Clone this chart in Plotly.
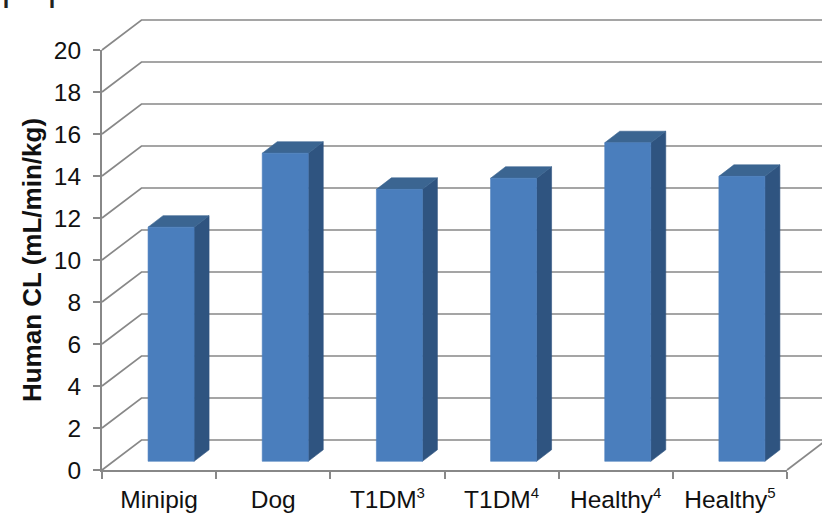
import plotly.graph_objects as go

SUP = '<sup><span style="font-size:15px">{}</span></sup>'
categories = ["Minipig", "Dog", "T1DM" + SUP.format(3), "T1DM" + SUP.format(4),
              "Healthy" + SUP.format(4), "Healthy" + SUP.format(5)]
clearance = [11.15, 14.67, 12.95, 13.48, 15.17, 13.57]
y_ticks = [0, 2, 4, 6, 8, 10, 12, 14, 16, 18, 20]

WIDTH, HEIGHT = 822, 513
LEFT, RIGHT = 102, 787      # plot floor, front edge
Y0, Y20 = 470, 50           # pixel rows of the value axis ends
UX = (RIGHT - LEFT) / len(categories)
UY = (Y0 - Y20) / 20

# Oblique projection of the chart box, in axis units
DEPTH_X, DEPTH_Y = 39.5 / UX, 30 / UY
BAR_W = 46 / UX
BAR_OFFSET = 0.105
BAR_BASE = 8.7 / UY
SIDE_X, SIDE_Y = 15 / UX, 11.5 / UY

GRID = "#888888"
FRONT, SIDE, TOP = "#4a7ebd", "#2f5480", "#3b6591"

fig = go.Figure()

# Keeps the front axes on the page
fig.add_trace(go.Scatter(x=[0], y=[0], mode="markers", marker=dict(opacity=0), hoverinfo="skip"))


def poly(xs, ys, fill):
    fig.add_trace(go.Scatter(
        x=xs, y=ys, xaxis="x2", yaxis="y2", mode="lines", fill="toself",
        fillcolor=fill, line=dict(color=fill, width=0.6), hoverinfo="skip",
    ))


# Wall and floor gridlines
x_back_end = (WIDTH + 10 - LEFT) / UX
for v in y_ticks:
    fig.add_trace(go.Scatter(
        x=[0, DEPTH_X, x_back_end], y=[v, v + DEPTH_Y, v + DEPTH_Y],
        xaxis="x2", yaxis="y2", mode="lines",
        line=dict(color=GRID, width=1.7), hoverinfo="skip",
    ))
fig.add_trace(go.Scatter(
    x=[len(categories), len(categories) + DEPTH_X], y=[0, DEPTH_Y],
    xaxis="x2", yaxis="y2", mode="lines",
    line=dict(color=GRID, width=1.7), hoverinfo="skip",
))

# Bars: side face, top face, front face
for i, value in enumerate(clearance):
    x0 = i + 0.5 + BAR_OFFSET - BAR_W / 2
    x1 = x0 + BAR_W
    y0 = BAR_BASE
    y1 = BAR_BASE + value
    poly([x1, x1 + SIDE_X, x1 + SIDE_X, x1, x1], [y0, y0 + SIDE_Y, y1 + SIDE_Y, y1, y0], SIDE)
    poly([x0, x1, x1 + SIDE_X, x0 + SIDE_X, x0], [y1, y1, y1 + SIDE_Y, y1 + SIDE_Y, y1], TOP)
    poly([x0, x1, x1, x0, x0], [y0, y0, y1, y1, y0], FRONT)

axis_font = dict(family="Liberation Sans", size=24.5, color="#111111")

fig.update_layout(
    width=WIDTH, height=HEIGHT, showlegend=False,
    margin=dict(l=0, r=0, t=0, b=0, autoexpand=False),
    paper_bgcolor="white", plot_bgcolor="rgba(0,0,0,0)",
    xaxis=dict(
        domain=[LEFT / WIDTH, RIGHT / WIDTH], anchor="y",
        range=[0, len(categories)], tickmode="array",
        tickvals=[i + 0.5 for i in range(len(categories))], ticktext=categories,
        ticks="", ticklabelstandoff=7, tickfont=axis_font,
        showgrid=False, zeroline=False, showline=True, linecolor=GRID, linewidth=2,
        minor=dict(tickmode="array", tickvals=list(range(len(categories) + 1)),
                   ticks="outside", ticklen=7, tickcolor=GRID, tickwidth=1.5, showgrid=False),
    ),
    yaxis=dict(
        domain=[1 - Y0 / HEIGHT, 1 - Y20 / HEIGHT], anchor="x",
        range=[0, 20], tickmode="array", tickvals=y_ticks, ticks="outside",
        ticklen=7, tickcolor=GRID, tickwidth=1.5, tickfont=axis_font, ticklabelstandoff=7,
        showgrid=False, zeroline=False, showline=True, linecolor=GRID, linewidth=2,
        title=dict(text="<b>Human CL (mL/min/kg)</b>", standoff=5,
                   font=dict(family="Liberation Sans", size=26, color="#111111")),
    ),
    # Full-page axes in the same units, so the depth of the box can extend past the front axes
    xaxis2=dict(
        domain=[0, 1], anchor="y2", visible=False,
        range=[-LEFT / UX, (WIDTH - LEFT) / UX],
    ),
    yaxis2=dict(
        domain=[0, 1], anchor="x2", visible=False,
        range=[(Y0 - HEIGHT) / UY, Y0 / UY],
    ),
    annotations=[
        dict(text="p", x=(px - LEFT) / UX, y=Y0 / UY, xref="x2", yref="y2",
             xanchor="left", yanchor="bottom", yshift=-10, showarrow=False,
             font=dict(family="Liberation Sans", size=36, color="#222222"))
        for px in (0, 46)
    ],
)

fig.write_html("out.html")
